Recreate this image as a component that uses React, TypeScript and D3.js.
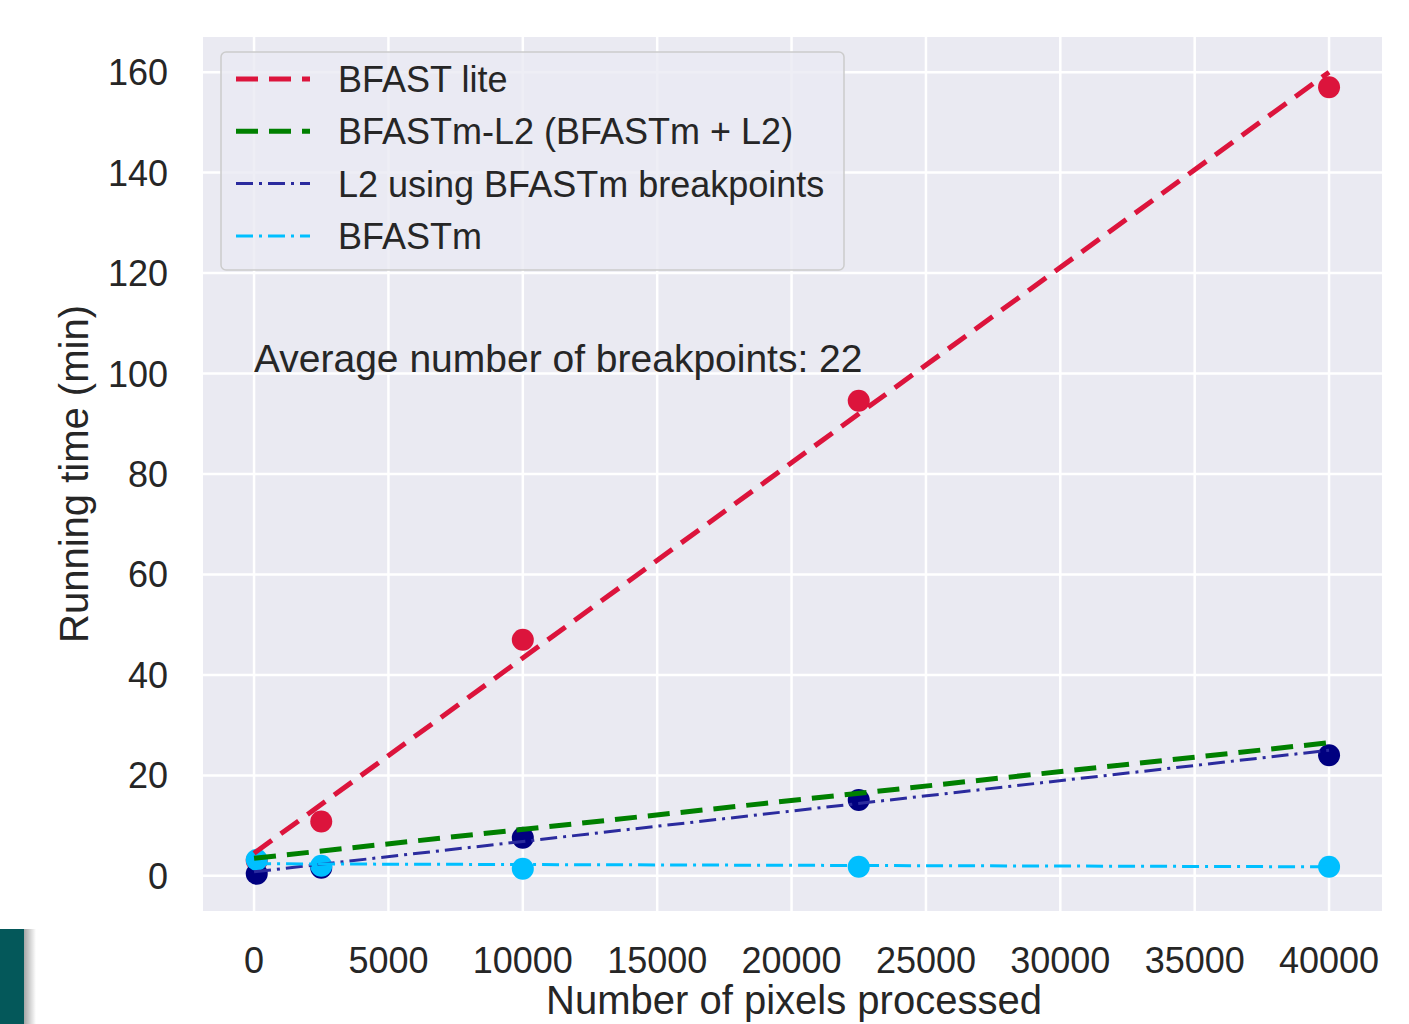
import React from "react";
import * as d3 from "d3";

const pixels = [100, 2500, 10000, 22500, 40000];
const bfastLite = [3, 10.8, 47, 94.6, 157];
const l2Points = [0.4, 1.6, 7.6, 15.1, 24];
const bfastmPts = [3.2, 2.0, 1.4, 1.8, 1.8];

const fitX = [0, 40000];
const fitLite = [4.5, 160];
const fitGreen = [3.5, 26.5];
const fitL2 = [0.8, 25];
const fitBfastm = [2.4, 1.8];

const xTicks = [0, 5000, 10000, 15000, 20000, 25000, 30000, 35000, 40000];
const yTicks = [0, 20, 40, 60, 80, 100, 120, 140, 160];

const legendLabels = [
  "BFAST lite",
  "BFASTm-L2 (BFASTm + L2)",
  "L2 using BFASTm breakpoints",
  "BFASTm",
];

const W = 1409;
const H = 1024;
const left = 203, right = 1382, top = 37, bottom = 911;
const font = "'Liberation Sans', Arial, sans-serif";

export default function App() {
  const x = d3.scaleLinear().domain([-1900, 41970]).range([left, right]);
  const y = d3.scaleLinear().domain([-7, 167]).range([bottom, top]);
  const line = d3
    .line<[number, number]>()
    .x((d) => x(d[0]))
    .y((d) => y(d[1]));
  const mk = (ys: number[]) => line(fitX.map((v, i) => [v, ys[i]] as [number, number])) || "";

  const styles = [
    { color: "#DC143C", w: 5, dash: "22 11" },
    { color: "#008000", w: 5, dash: "22 11" },
    { color: "#2B2B9E", w: 3, dash: "17 6 3 6" },
    { color: "#00BFFF", w: 3, dash: "17 6 3 6" },
  ];
  const fits = [fitLite, fitGreen, fitL2, fitBfastm];

  return (
    <svg
      width={W}
      height={H}
      style={{ position: "absolute", left: 0, top: 0, background: "#fff" }}
    >
      <defs>
        <linearGradient id="shadow" x1="0" x2="1" y1="0" y2="0">
          <stop offset="0" stopColor="#000" stopOpacity="0.35" />
          <stop offset="1" stopColor="#000" stopOpacity="0" />
        </linearGradient>
      </defs>
      <rect x={0} y={0} width={W} height={H} fill="#fff" />
      <rect x={left} y={top} width={right - left} height={bottom - top} fill="#EAEAF2" />
      {xTicks.map((t) => (
        <line key={"gx" + t} x1={x(t)} x2={x(t)} y1={top} y2={bottom} stroke="#fff" strokeWidth={2.5} />
      ))}
      {yTicks.map((t) => (
        <line key={"gy" + t} x1={left} x2={right} y1={y(t)} y2={y(t)} stroke="#fff" strokeWidth={2.5} />
      ))}
      {/* points */}
      {pixels.map((p, i) => (
        <circle key={"r" + i} cx={x(p)} cy={y(bfastLite[i])} r={11} fill="#DC143C" />
      ))}
      {pixels.map((p, i) => (
        <circle key={"n" + i} cx={x(p)} cy={y(l2Points[i])} r={11} fill="#000080" />
      ))}
      {pixels.map((p, i) => (
        <circle key={"b" + i} cx={x(p)} cy={y(bfastmPts[i])} r={11} fill="#00BFFF" />
      ))}
      {/* fitted lines */}
      {fits.map((f, i) => (
        <path
          key={"f" + i}
          d={mk(f)}
          fill="none"
          stroke={styles[i].color}
          strokeWidth={styles[i].w}
          strokeDasharray={styles[i].dash}
        />
      ))}
      {/* y tick labels */}
      {yTicks.map((t) => (
        <text key={"yl" + t} x={168} y={y(t)} dy="0.36em" textAnchor="end" fontFamily={font} fontSize={36} fill="#262626">
          {t}
        </text>
      ))}
      {xTicks.map((t) => (
        <text key={"xl" + t} x={x(t)} y={973} textAnchor="middle" fontFamily={font} fontSize={36} fill="#262626">
          {t}
        </text>
      ))}
      <text
        transform={`translate(88, 474) rotate(-90)`}
        textAnchor="middle"
        fontFamily={font}
        fontSize={40}
        fill="#262626"
      >
        Running time (min)
      </text>
      <text x={794} y={1014} textAnchor="middle" fontFamily={font} fontSize={40} fill="#262626">
        Number of pixels processed
      </text>
      <text x={254} y={372} fontFamily={font} fontSize={39} fill="#262626">
        Average number of breakpoints: 22
      </text>
      {/* legend */}
      <rect x={221} y={52} width={623} height={218} rx={5} fill="#EAEAF2" fillOpacity={0.8} stroke="#cccccc" strokeWidth={1.5} />
      {legendLabels.map((lab, i) => {
        const ly = 79 + i * 52.3;
        return (
          <g key={"lg" + i}>
            <line x1={236} x2={310} y1={ly} y2={ly} stroke={styles[i].color} strokeWidth={styles[i].w} strokeDasharray={styles[i].dash} />
            <text x={338} y={ly} dy="0.36em" fontFamily={font} fontSize={36} fill="#262626">
              {lab}
            </text>
          </g>
        );
      })}
      {/* teal block bottom-left */}
      <rect x={24} y={929} width={12} height={95} fill="url(#shadow)" />
      <rect x={0} y={929} width={24} height={95} fill="#04585A" />
    </svg>
  );
}
